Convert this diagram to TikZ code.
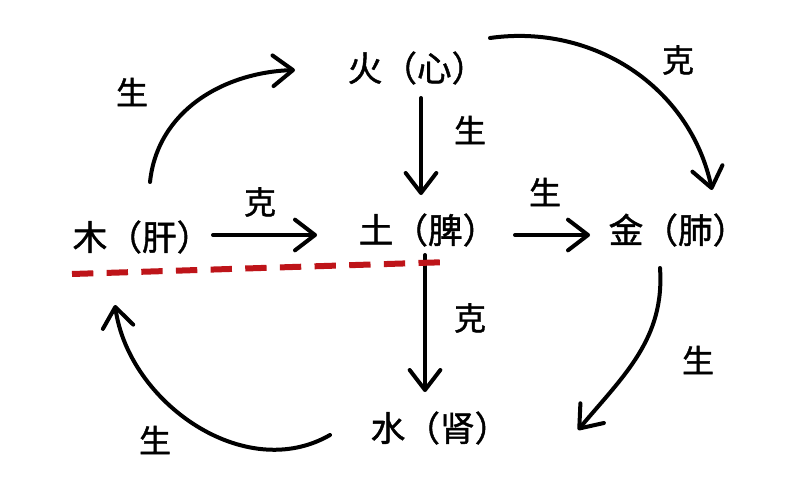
\documentclass[tikz,border=0pt]{standalone}
\usepackage{fontspec}
\newfontfamily\cjk[FakeBold=1.2]{Noto Sans CJK SC}
\usetikzlibrary{arrows.meta,calc}
\definecolor{dashred}{RGB}{190,20,25}
\begin{document}
\begin{tikzpicture}[x=0.75pt,y=0.75pt,
  elem/.style={inner sep=0pt,font=\cjk\fontsize{26pt}{30pt}\selectfont},
  lbl/.style={inner sep=0pt,font=\cjk\fontsize{24pt}{28pt}\selectfont},
  arr/.style={line width=3pt,line cap=round,-{Straight Barb[length=15pt,width=23pt,line cap=round,line join=round]}}]
\useasboundingbox[fill=white] (0,0) rectangle (800,-492);
% elements
\node[elem] (huo)  at (417,-68)  {火（心）};
\node[elem] (mu)   at (142,-237) {木（肝）};
\node[elem] (tu)   at (428,-230) {土（脾）};
\node[elem] (jin)  at (678,-230) {金（肺）};
\node[elem] (shui) at (440,-428) {水（肾）};
% labels
\node[lbl] (l1) at (132,-92)  {生};
\node[lbl] (l2) at (678,-60)  {克};
\node[lbl] (l3) at (470,-130) {生};
\node[lbl] (l4) at (260,-202) {克};
\node[lbl] (l5) at (545,-192) {生};
\node[lbl] (l6) at (470,-318) {克};
\node[lbl] (l7) at (698,-360) {生};
\node[lbl] (l8) at (155,-440) {生};
% connectors
\draw[arr] ($(mu)+(8,55)$) to[out=84,in=182] ($(huo)+(-122,-2)$);
\draw[arr] ($(huo)+(73,30)$) to[out=8,in=102] ($(jin)+(34,40)$);
\draw[arr] ($(huo)+(4,-30)$) -- ($(tu)+(-7,35)$);
\draw[arr] ($(mu)+(71,2)$) -- ($(tu)+(-111,-5)$);
\draw[arr] ($(tu)+(87,-5)$) -- ($(jin)+(-88,-5)$);
\draw[arr] ($(tu)+(-3,-25)$) -- ($(shui)+(-15,36)$);
\draw[arr] ($(jin)+(-18,-38)$) to[out=-86,in=50] ($(shui)+(138,-2)$);
\draw[arr] ($(shui)+(-110,-7)$) to[out=210,in=-82] ($(mu)+(-27,-68)$);
% red dashed line
\coordinate (d1) at (72,-274);
\coordinate (d2) at (450,-262);
\draw[dashred,line width=4.5pt,dash pattern=on 16pt off 10pt] (d1) -- (d2);
\end{tikzpicture}
\end{document}
